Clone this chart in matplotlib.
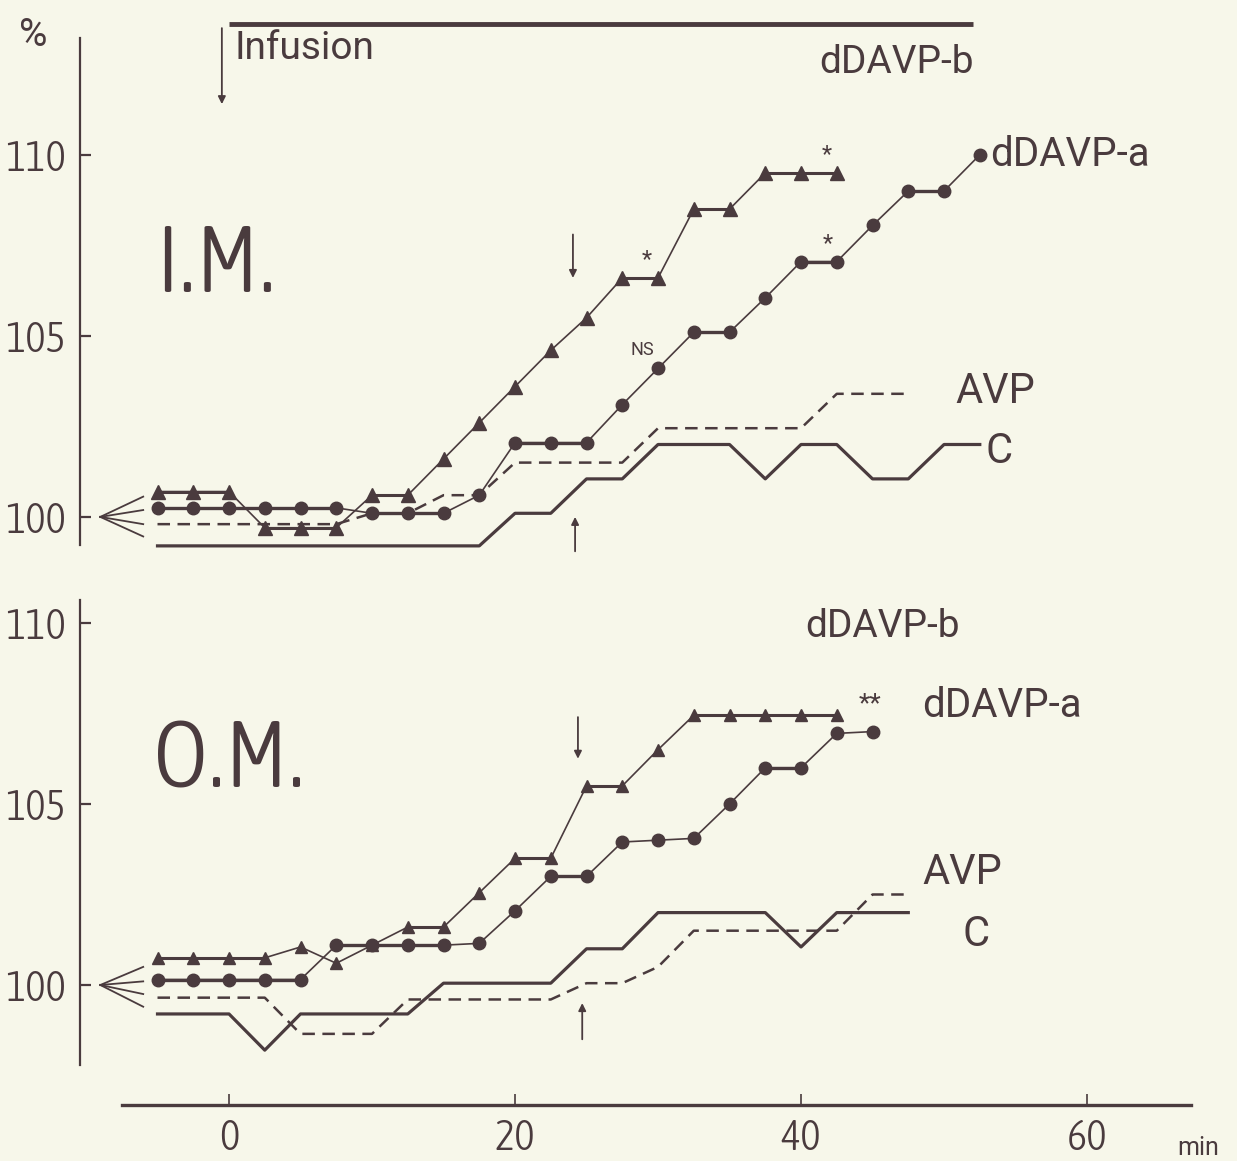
import os

import matplotlib
matplotlib.use("Agg")
import matplotlib.pyplot as plt
from matplotlib import font_manager
from matplotlib.font_manager import FontProperties

INK = "#4a3b3e"
PAPER = "#f7f7ea"

# ---- I.M. panel (inner medulla), % of baseline vs time (min) ----
im_time_b = [-5, -2.5, 0, 2.5, 5, 7.5, 10, 12.5, 15, 17.5, 20, 22.5, 25, 27.5, 30, 32.5, 35, 37.5, 40, 42.5]
im_dDAVP_b = [100.7, 100.7, 100.7, 99.7, 99.7, 99.7, 100.6, 100.6, 101.6, 102.6, 103.6, 104.6, 105.5, 106.6, 106.6,
              108.5, 108.5, 109.5, 109.5, 109.5]
im_time_a = [-5, -2.5, 0, 2.5, 5, 7.5, 10, 12.5, 15, 17.5, 20, 22.5, 25, 27.5, 30, 32.5, 35, 37.5, 40, 42.5,
             45, 47.5, 50, 52.5]
im_dDAVP_a = [100.25, 100.25, 100.25, 100.25, 100.25, 100.25, 100.1, 100.1, 100.1, 100.6, 102.05, 102.05, 102.05,
              103.1, 104.1, 105.1, 105.1, 106.05, 107.05, 107.05, 108.05, 109.0, 109.0, 110.0]
im_time_avp = [-5, -2.5, 0, 2.5, 5, 7.5, 10, 12.5, 15, 17.5, 20, 22.5, 25, 27.5, 30, 32.5, 35, 37.5, 40, 42.5,
               45, 47.5]
im_avp = [99.8, 99.8, 99.8, 99.8, 99.8, 99.8, 100.1, 100.1, 100.6, 100.6, 101.5, 101.5, 101.5, 101.5, 102.45,
          102.45, 102.45, 102.45, 102.45, 103.4, 103.4, 103.4]
im_time_c = [-5, -2.5, 0, 2.5, 5, 7.5, 10, 12.5, 15, 17.5, 20, 22.5, 25, 27.5, 30, 32.5, 35, 37.5, 40, 42.5,
             45, 47.5, 50, 52.5]
im_c = [99.2, 99.2, 99.2, 99.2, 99.2, 99.2, 99.2, 99.2, 99.2, 99.2, 100.1, 100.1, 101.05, 101.05, 102.0, 102.0,
        102.0, 101.05, 102.0, 102.0, 101.05, 101.05, 102.0, 102.0]
im_fan = [100.56, 100.19, 99.8, 99.46]

# ---- O.M. panel (outer medulla) ----
om_time_b = [-5, -2.5, 0, 2.5, 5, 7.5, 10, 12.5, 15, 17.5, 20, 22.5, 25, 27.5, 30, 32.5, 35, 37.5, 40, 42.5]
om_dDAVP_b = [100.75, 100.75, 100.75, 100.75, 101.05, 100.6, 101.1, 101.6, 101.6, 102.55, 103.5, 103.5, 105.5,
              105.5, 106.5, 107.45, 107.45, 107.45, 107.45, 107.45]
om_time_a = [-5, -2.5, 0, 2.5, 5, 7.5, 10, 12.5, 15, 17.5, 20, 22.5, 25, 27.5, 30, 32.5, 35, 37.5, 40, 42.5, 45]
om_dDAVP_a = [100.15, 100.15, 100.15, 100.15, 100.15, 101.1, 101.1, 101.1, 101.1, 101.15, 102.05, 103.0, 103.0,
              103.95, 104.0, 104.05, 105.0, 106.0, 106.0, 106.95, 107.0]
om_time_avp = [-5, -2.5, 0, 2.5, 5, 7.5, 10, 12.5, 15, 17.5, 20, 22.5, 25, 27.5, 30, 32.5, 35, 37.5, 40, 42.5,
               45, 47.5]
om_avp = [99.65, 99.65, 99.65, 99.65, 98.65, 98.65, 98.65, 99.6, 99.6, 99.6, 99.6, 99.6, 100.05, 100.05, 100.5,
          101.5, 101.5, 101.5, 101.5, 101.5, 102.5, 102.5]
om_time_c = [-5, -2.5, 0, 2.5, 5, 7.5, 10, 12.5, 15, 17.5, 20, 22.5, 25, 27.5, 30, 32.5, 35, 37.5, 40, 42.5,
             45, 47.5]
om_c = [99.2, 99.2, 99.2, 98.2, 99.2, 99.2, 99.2, 99.2, 100.05, 100.05, 100.05, 100.05, 101.0, 101.0, 102.0,
        102.0, 102.0, 102.0, 101.05, 102.0, 102.0, 102.0]
om_fan = [100.5, 100.1, 99.75, 99.4]

infusion_span = [0, 52]
y_ticks = [100, 105, 110]
x_ticks = [0, 20, 40, 60]
fan_x = [-9.0, -6.0]


def _condensed_file() -> str | None:
    # the scan uses thin, narrow technical lettering; use a light condensed face if one is installed
    found = []
    for f in font_manager.fontManager.ttflist:
        base = os.path.basename(f.fname)
        if not ("Condensed" in base or "Narrow" in base):
            continue
        if any(k in base for k in ("Bold", "Italic", "Oblique", "Black", "Semi", "Medium", "Extra", "Thin")):
            continue
        rank = 0 if "Light" in base else (1 if "Regular" in base else 2)
        found.append((rank, base, f.fname))
    found.sort()
    return found[0][2] if found else None


plt.rcParams["font.family"] = ["Roboto", "DejaVu Sans"]

cond_path = _condensed_file()
if cond_path:
    NUM_FP = FontProperties(fname=cond_path)
    YTICK_SIZE, BIG_SIZE = 31, 68
else:
    NUM_FP = FontProperties(family=["Roboto", "DejaVu Sans"], weight="light")
    YTICK_SIZE, BIG_SIZE = 27, 56


def _draw_flats(ax, t, v, lw):
    # hand-drawn original inks the level stretches heavier
    for i in range(len(v) - 1):
        if v[i] == v[i + 1]:
            ax.plot([t[i], t[i + 1]], [v[i], v[i + 1]], color=INK, lw=lw, solid_capstyle="butt", zorder=3)


def _draw_panel(ax, tb, vb, ta, va, tv, vv, tc, vc, fan, tri_ms):
    ax.plot(tc, vc, color=INK, lw=2.3, zorder=2)
    ax.plot(tv, vv, color=INK, lw=1.8, dashes=(5, 3), zorder=2)
    ax.plot(ta, va, color=INK, lw=1.2, zorder=3)
    _draw_flats(ax, ta, va, 2.4)
    ax.plot(ta, va, ls="none", marker="o", ms=9, color=INK, zorder=5)
    ax.plot(tb, vb, color=INK, lw=1.2, zorder=3)
    _draw_flats(ax, tb, vb, 2.2)
    ax.plot(tb, vb, ls="none", marker="^", ms=tri_ms, color=INK, zorder=4)
    for y_end in fan:
        ax.plot(fan_x, [100, y_end], color=INK, lw=1.3, clip_on=False)


def _arrow(ax, x, y_from, y_to):
    ax.annotate("", xy=(x, y_to), xytext=(x, y_from),
                arrowprops=dict(arrowstyle="-|>", color=INK, lw=1.3, mutation_scale=11, shrinkA=0, shrinkB=0))


def _style_axis(ax, ylim, spine_bounds):
    ax.set_facecolor("none")
    ax.set_xlim(-10.42, 67.27)
    ax.set_ylim(*ylim)
    for side in ["top", "right", "bottom"]:
        ax.spines[side].set_visible(False)
    ax.spines["left"].set_color(INK)
    ax.spines["left"].set_linewidth(1.6)
    ax.spines["left"].set_bounds(*spine_bounds)
    ax.set_yticks(y_ticks)
    ax.set_yticklabels([str(v) for v in y_ticks])
    ax.tick_params(axis="y", direction="in", length=8, width=1.6, pad=10, labelsize=YTICK_SIZE,
                   colors=INK)
    for lab in ax.get_yticklabels():
        lab.set_fontproperties(NUM_FP)
        lab.set_fontsize(YTICK_SIZE)
    ax.set_xticks([])


fig = plt.figure(figsize=(12.37, 11.61), dpi=100, facecolor=PAPER)
W, H = 1237, 1161
left, right = 80 / W, 1191 / W
ax_im = fig.add_axes([left, 1 - 560 / H, right - left, 550 / H])
ax_om = fig.add_axes([left, 1 - 1105 / H, right - left, 505 / H])

_style_axis(ax_im, (98.81, 114.0), (99.23, 113.23))
_style_axis(ax_om, (96.685, 110.635), (97.79, 110.635))

# shared time axis drawn on the lower panel
ax_om.spines["bottom"].set_visible(True)
ax_om.spines["bottom"].set_color(INK)
ax_om.spines["bottom"].set_linewidth(2.4)
ax_om.spines["bottom"].set_bounds(-7.48, 67.27)
ax_om.set_xticks(x_ticks)
ax_om.set_xticklabels([str(v) for v in x_ticks])
ax_om.tick_params(axis="x", direction="in", length=8, width=1.2, pad=9, colors=INK)
for lab in ax_om.get_xticklabels():
    lab.set_fontproperties(NUM_FP)
    lab.set_fontsize(31)
ax_om.text(66.3, 95.5, "min", color=INK, fontsize=18, ha="left", va="center", clip_on=False)

_draw_panel(ax_im, im_time_b, im_dDAVP_b, im_time_a, im_dDAVP_a, im_time_avp, im_avp,
            im_time_c, im_c, im_fan, 10)
_draw_panel(ax_om, om_time_b, om_dDAVP_b, om_time_a, om_dDAVP_a, om_time_avp, om_avp,
            om_time_c, om_c, om_fan, 8.5)

# infusion bar and marker
ax_im.plot(infusion_span, [113.6, 113.6], color=INK, lw=3.5, clip_on=False, solid_capstyle="butt")
_arrow(ax_im, -0.5, 113.5, 111.4)
ax_im.text(0.4, 112.95, "Infusion", color=INK, fontsize=28, ha="left", va="center")
ax_im.text(-13.7, 113.3, "%", color=INK, fontsize=28, ha="center", va="center", clip_on=False)

# I.M. annotations
ax_im.text(-5.2, 106.2, "I.M.", color=INK, fontproperties=NUM_FP, fontsize=BIG_SIZE, ha="left", va="baseline")
ax_im.text(46.7, 112.55, "dDAVP-b", color=INK, fontsize=28, ha="center", va="center")
ax_im.text(53.2, 110.0, "dDAVP-a", color=INK, fontsize=29, ha="left", va="center")
ax_im.text(50.8, 103.45, "AVP", color=INK, fontsize=30, ha="left", va="center")
ax_im.text(52.9, 101.82, "C", color=INK, fontsize=30, ha="left", va="center")
ax_im.text(28.9, 104.6, "NS", color=INK, fontsize=13, ha="center", va="center")
for sx, sy in [(29.2, 107.1), (41.8, 110.0), (41.9, 107.55)]:
    ax_im.text(sx, sy, "*", color=INK, fontsize=17, ha="center", va="center")
_arrow(ax_im, 24.05, 107.8, 106.6)
_arrow(ax_im, 24.2, 99.05, 100.0)

# O.M. annotations
ax_om.text(-5.3, 105.45, "O.M.", color=INK, fontproperties=NUM_FP, fontsize=BIG_SIZE, ha="left", va="baseline")
ax_om.text(45.7, 109.9, "dDAVP-b", color=INK, fontsize=28, ha="center", va="center")
ax_om.text(44.8, 107.75, "**", color=INK, fontsize=19, ha="center", va="center")
ax_om.text(48.5, 107.73, "dDAVP-a", color=INK, fontsize=29, ha="left", va="center")
ax_om.text(48.5, 103.1, "AVP", color=INK, fontsize=30, ha="left", va="center")
ax_om.text(51.3, 101.4, "C", color=INK, fontsize=30, ha="left", va="center")
_arrow(ax_om, 24.4, 107.4, 106.25)
_arrow(ax_om, 24.7, 98.5, 99.5)

fig.savefig("out.png", dpi=100, facecolor=PAPER)
